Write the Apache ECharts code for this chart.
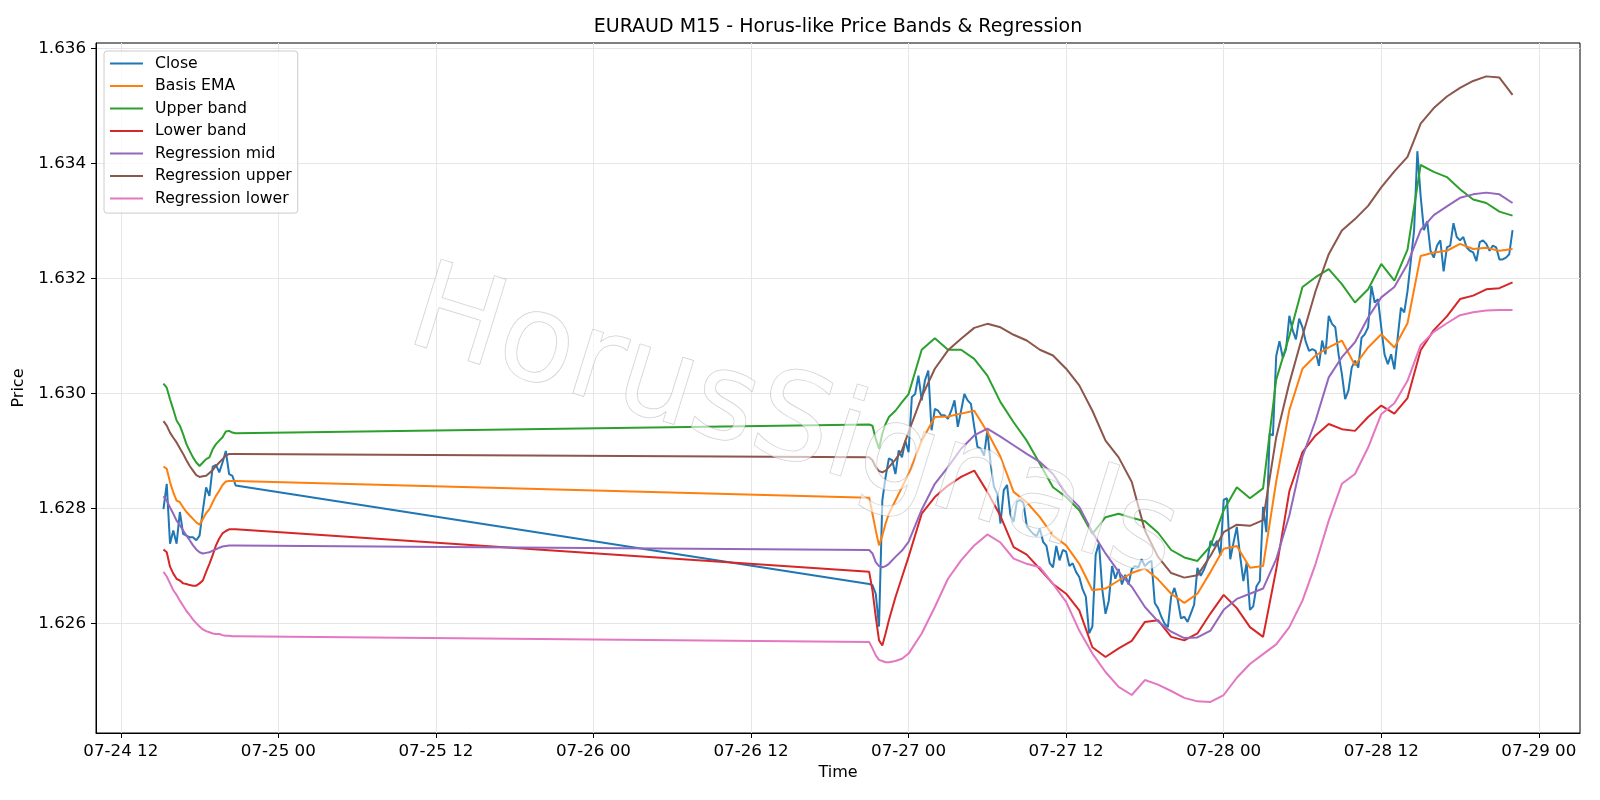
<!DOCTYPE html>
<html><head><meta charset="utf-8">
<script src="https://cdn.jsdelivr.net/npm/echarts@6/dist/echarts.min.js"></script>
<style>html,body{margin:0;padding:0;background:#fff}#chart{width:1600px;height:800px}</style>
</head><body><div id="chart"></div>
<script>
// ---- data ----
const seg1Start = '2025-07-24T15:15:00Z';
const seg2Start = '2025-07-26T21:00:00Z';
const barMinutes = 15;

const closeSeg1 = [1.62799,1.62843,1.62739,1.62762,1.62739,1.62794,1.62756,1.62753,1.62750,1.62750,1.62745,1.62753,1.62797,1.62837,1.62822,1.62873,1.62876,1.62863,1.62880,1.62900,1.62860,1.62857,1.62840];
const emaSeg1 = [1.62873,1.62869,1.62846,1.62828,1.62814,1.62811,1.62802,1.62794,1.62788,1.62782,1.62776,1.62772,1.62782,1.62792,1.62799,1.62811,1.62822,1.62831,1.62841,1.62847,1.62848,1.62848,1.62848];
const upperSeg1 = [1.63017,1.63010,1.62990,1.62972,1.62953,1.62944,1.62929,1.62912,1.62900,1.62889,1.62880,1.62874,1.62880,1.62886,1.62889,1.62903,1.62912,1.62918,1.62924,1.62934,1.62935,1.62932,1.62931];
const lowerSeg1 = [1.62729,1.62724,1.62699,1.62687,1.62678,1.62675,1.62670,1.62669,1.62667,1.62666,1.62666,1.62670,1.62675,1.62690,1.62704,1.62719,1.62736,1.62748,1.62757,1.62761,1.62764,1.62764,1.62764];
const regMidSeg1 = [1.62821,1.62814,1.62802,1.62791,1.62779,1.62771,1.62762,1.62753,1.62745,1.62736,1.62729,1.62724,1.62722,1.62723,1.62724,1.62727,1.62729,1.62732,1.62734,1.62735,1.62736,1.62736,1.62736];
const regUpSeg1 = [1.62952,1.62944,1.62932,1.62923,1.62915,1.62905,1.62895,1.62884,1.62874,1.62866,1.62858,1.62855,1.62856,1.62857,1.62862,1.62867,1.62874,1.62880,1.62886,1.62892,1.62895,1.62895,1.62895];
const regLowSeg1 = [1.62690,1.62682,1.62670,1.62658,1.62650,1.62640,1.62631,1.62622,1.62615,1.62607,1.62601,1.62595,1.62590,1.62587,1.62585,1.62583,1.62582,1.62582,1.62580,1.62579,1.62579,1.62578,1.62578];

const closeSeg2 = [
1.62669,1.62667,1.62652,1.62595,1.62814,1.62855,1.62887,1.62884,1.62860,1.62901,
1.62889,1.62918,1.62898,1.62994,1.62999,1.63031,1.62988,1.63023,1.63040,1.62936,
1.62973,1.62970,1.62962,1.62962,1.62956,1.62970,1.62988,1.62942,1.62970,1.62999,
1.62988,1.62982,1.62942,1.62907,1.62904,1.62892,1.62936,1.62878,1.62838,1.62826,
1.62774,1.62832,1.62841,1.62790,1.62777,1.62812,1.62815,1.62810,1.62770,1.62762,
1.62756,1.62752,1.62765,1.62742,1.62735,1.62705,1.62698,1.62735,1.62710,1.62728,
1.62725,1.62700,1.62705,1.62690,1.62681,1.62660,1.62647,1.62583,1.62595,1.62720,
1.62740,1.62660,1.62617,1.62640,1.62700,1.62678,1.62695,1.62668,1.62685,1.62668,
1.62695,1.62700,1.62698,1.62712,1.62700,1.62706,1.62709,1.62636,1.62627,1.62612,
1.62600,1.62594,1.62647,1.62662,1.62641,1.62609,1.62612,1.62603,1.62618,1.62633,
1.62697,1.62683,1.62694,1.62709,1.62744,1.62735,1.62744,1.62718,1.62815,1.62818,
1.62712,1.62741,1.62768,1.62718,1.62674,1.62706,1.62624,1.62630,1.62665,1.62674,
1.62803,1.62759,1.62930,1.62927,1.63065,1.63091,1.63062,1.63077,1.63135,1.63110,
1.63094,1.63130,1.63115,1.63090,1.63074,1.63077,1.63074,1.63048,1.63092,1.63068,
1.63135,1.63121,1.63115,1.63068,1.63034,1.62990,1.63005,1.63045,1.63057,1.63045,
1.63097,1.63103,1.63115,1.63187,1.63158,1.63164,1.63115,1.63068,1.63051,1.63068,
1.63042,1.63097,1.63149,1.63141,1.63178,1.63230,1.63283,1.63421,1.63343,1.63284,
1.63299,1.63248,1.63236,1.63257,1.63266,1.63212,1.63254,1.63257,1.63296,1.63272,
1.63266,1.63272,1.63254,1.63248,1.63245,1.63230,1.63263,1.63266,1.63260,1.63248,
1.63257,1.63254,1.63233,1.63233,1.63236,1.63242,1.63284];

// bar offsets (from seg2Start) at which the smooth indicator lines were read
const smoothIdxSeg2 = [0,1,2,3,4,5,6,8,10,12,16,20,24,28,32,36,40,44,48,52,56,60,64,68,72,76,80,84,88,92,96,100,104,108,112,116,120,124,128,132,136,140,144,148,152,156,160,164,168,172,176,180,184,188,192,196];

const emaSeg2 = [1.62819,1.62791,1.62762,1.62736,1.62753,1.62774,1.62791,1.62814,1.62837,1.62860,
1.62918,1.62959,1.62960,1.62965,1.62970,1.62933,1.62890,1.62829,1.62811,1.62785,1.62753,1.62736,1.62704,1.62658,1.62661,1.62675,1.62688,1.62696,1.62677,1.62652,1.62636,1.62652,1.62690,1.62730,1.62735,1.62697,1.62700,1.62847,1.62971,1.63043,1.63066,1.63080,1.63092,1.63049,1.63080,1.63103,1.63080,1.63122,1.63239,1.63245,1.63248,1.63260,1.63251,1.63253,1.63248,1.63251];
const upperSeg2 = [1.62946,1.62944,1.62921,1.62904,1.62930,1.62947,1.62959,1.62970,1.62985,1.62999,
1.63076,1.63096,1.63076,1.63076,1.63060,1.63031,1.62985,1.62950,1.62918,1.62878,1.62837,1.62820,1.62797,1.62756,1.62785,1.62791,1.62784,1.62778,1.62758,1.62728,1.62715,1.62709,1.62735,1.62797,1.62837,1.62818,1.62835,1.63024,1.63100,1.63185,1.63202,1.63216,1.63190,1.63158,1.63181,1.63225,1.63196,1.63250,1.63397,1.63385,1.63376,1.63355,1.63337,1.63331,1.63316,1.63309];
const lowerSeg2 = [1.62690,1.62658,1.62612,1.62571,1.62562,1.62583,1.62606,1.62646,1.62681,1.62716,
1.62791,1.62820,1.62840,1.62855,1.62866,1.62829,1.62787,1.62733,1.62720,1.62695,1.62669,1.62652,1.62623,1.62559,1.62542,1.62557,1.62570,1.62603,1.62606,1.62577,1.62571,1.62583,1.62618,1.62650,1.62627,1.62594,1.62577,1.62694,1.62830,1.62898,1.62927,1.62947,1.62938,1.62935,1.62959,1.62979,1.62965,1.62992,1.63075,1.63110,1.63134,1.63164,1.63170,1.63181,1.63183,1.63193];
const regMidSeg2 = [1.62728,1.62722,1.62707,1.62700,1.62698,1.62700,1.62704,1.62716,1.62727,1.62742,
1.62798,1.62843,1.62872,1.62904,1.62927,1.62939,1.62925,1.62910,1.62895,1.62881,1.62860,1.62826,1.62803,1.62759,1.62722,1.62690,1.62664,1.62629,1.62604,1.62586,1.62575,1.62576,1.62588,1.62624,1.62643,1.62652,1.62661,1.62712,1.62788,1.62890,1.62953,1.63028,1.63063,1.63089,1.63132,1.63167,1.63185,1.63225,1.63284,1.63310,1.63325,1.63340,1.63346,1.63349,1.63346,1.63331];
const regUpSeg2 = [1.62889,1.62884,1.62872,1.62865,1.62863,1.62866,1.62872,1.62885,1.62901,1.62933,
1.62994,1.63043,1.63075,1.63095,1.63114,1.63121,1.63115,1.63102,1.63092,1.63076,1.63066,1.63043,1.63014,1.62970,1.62918,1.62889,1.62846,1.62762,1.62716,1.62688,1.62680,1.62684,1.62718,1.62759,1.62772,1.62770,1.62780,1.62924,1.63018,1.63100,1.63178,1.63242,1.63283,1.63303,1.63326,1.63358,1.63386,1.63411,1.63469,1.63496,1.63516,1.63531,1.63543,1.63551,1.63549,1.63519];
const regLowSeg2 = [1.62568,1.62557,1.62545,1.62537,1.62535,1.62533,1.62533,1.62535,1.62539,1.62548,
1.62583,1.62629,1.62678,1.62710,1.62736,1.62755,1.62741,1.62713,1.62704,1.62698,1.62669,1.62638,1.62588,1.62548,1.62516,1.62490,1.62476,1.62502,1.62494,1.62483,1.62471,1.62465,1.62464,1.62476,1.62506,1.62530,1.62547,1.62564,1.62594,1.62640,1.62704,1.62779,1.62843,1.62860,1.62906,1.62964,1.62983,1.63022,1.63084,1.63107,1.63122,1.63136,1.63141,1.63144,1.63145,1.63145];

const seriesNames = ['Close','Basis EMA','Upper band','Lower band','Regression mid','Regression upper','Regression lower'];
const seriesColors = ['#1f77b4','#ff7f0e','#2ca02c','#d62728','#9467bd','#8c564b','#e377c2'];
const xTickTimes = ['2025-07-24T12:00:00Z','2025-07-25T00:00:00Z','2025-07-25T12:00:00Z','2025-07-26T00:00:00Z','2025-07-26T12:00:00Z','2025-07-27T00:00:00Z','2025-07-27T12:00:00Z','2025-07-28T00:00:00Z','2025-07-28T12:00:00Z','2025-07-29T00:00:00Z'];
const yTicks = [1.626,1.628,1.630,1.632,1.634,1.636];
const yLimits = [1.6241, 1.63609];
const chartTitle = 'EURAUD M15 - Horus-like Price Bands & Regression';
const watermark = 'HorusSignals';

// ---- build ----
const stepMs = barMinutes * 60000;
const t1 = Date.parse(seg1Start), t2 = Date.parse(seg2Start);
function build(seg1, idx2, seg2) {
  const out = seg1.map((v, i) => [t1 + i * stepMs, v]);
  seg2.forEach((v, j) => out.push([t2 + idx2[j] * stepMs, v]));
  return out;
}
const allIdx = closeSeg2.map((_, i) => i);
const seriesData = [
  build(closeSeg1, allIdx, closeSeg2),
  build(emaSeg1, smoothIdxSeg2, emaSeg2),
  build(upperSeg1, smoothIdxSeg2, upperSeg2),
  build(lowerSeg1, smoothIdxSeg2, lowerSeg2),
  build(regMidSeg1, smoothIdxSeg2, regMidSeg2),
  build(regUpSeg1, smoothIdxSeg2, regUpSeg2),
  build(regLowSeg1, smoothIdxSeg2, regLowSeg2)
];
const tFirst = t1, tLast = t2 + (closeSeg2.length - 1) * stepMs;
const span = tLast - tFirst;
const xMin = tFirst - 0.05 * span, xMax = tLast + 0.05 * span;
const xTickVals = xTickTimes.map(s => Date.parse(s));
const pad = n => String(n).padStart(2, '0');
const fmtX = v => { const d = new Date(v); return pad(d.getUTCMonth() + 1) + '-' + pad(d.getUTCDate()) + ' ' + pad(d.getUTCHours()); };

const FONT = 'DejaVu Sans';
const TICK_FS = 16.7, LABEL_FS = 16, LEGEND_FS = 15.7;
const chart = echarts.init(document.getElementById('chart'), null, {renderer: 'canvas'});
chart.setOption({
  animation: false,
  backgroundColor: '#ffffff',
  grid: {left: 96, right: 20, top: 43, bottom: 67, show: true, borderColor: '#000', borderWidth: 1, backgroundColor: 'transparent'},
  legend: {
    orient: 'vertical', left: 104, top: 51, padding: [4.5, 6, 6.6, 6], itemGap: 6.5,
    itemWidth: 33, itemHeight: 2, icon: 'rect',
    backgroundColor: 'rgba(255,255,255,0.8)', borderColor: '#cccccc', borderWidth: 1, borderRadius: 3,
    textStyle: {fontFamily: FONT, fontSize: LEGEND_FS, color: '#000', padding: [0, 0, 0, 7]},
    data: seriesNames
  },
  xAxis: {
    type: 'value', min: xMin, max: xMax,
    name: 'Time', nameLocation: 'middle', nameGap: 32,
    nameTextStyle: {fontFamily: FONT, fontSize: LABEL_FS, color: '#000'},
    axisLine: {show: true, lineStyle: {color: '#000', width: 1}},
    axisTick: {show: true, length: 5, lineStyle: {color: '#000', width: 1}, customValues: xTickVals},
    axisLabel: {customValues: xTickVals, formatter: fmtX, margin: 10, fontFamily: FONT, fontSize: TICK_FS, color: '#000'},
    splitLine: {show: true, lineStyle: {color: '#e6e6e6', width: 1}}
  },
  yAxis: {
    type: 'value', min: yLimits[0], max: yLimits[1], scale: true,
    name: 'Price', nameLocation: 'middle', nameGap: 62,
    nameTextStyle: {fontFamily: FONT, fontSize: LABEL_FS, color: '#000'},
    axisLine: {show: true, lineStyle: {color: '#000', width: 1}},
    axisTick: {show: true, length: 5, lineStyle: {color: '#000', width: 1}, customValues: yTicks},
    axisLabel: {customValues: yTicks, formatter: v => v.toFixed(3), margin: 10, fontFamily: FONT, fontSize: TICK_FS, color: '#000'},
    splitLine: {show: true, lineStyle: {color: '#e6e6e6', width: 1}}
  },
  graphic: [
    {type: 'text', x: 838, y: 27.5, z: 10, style: {text: chartTitle, align: 'center', verticalAlign: 'middle', font: 'normal 19px "DejaVu Sans"', fill: '#000'}},
    {type: 'text', x: 793, y: 428, rotation: -0.30, z: 100, silent: true,
     style: {text: watermark, align: 'center', verticalAlign: 'middle', font: 'normal 122px "DejaVu Sans"',
       fill: 'rgba(255,255,255,0.6)', stroke: 'rgba(150,150,150,0.5)', lineWidth: 1,
       shadowColor: 'rgba(0,0,0,0.6)', shadowBlur: 3, shadowOffsetX: -5, shadowOffsetY: 5}}
  ],
  series: seriesNames.map((n, i) => ({
    name: n, type: 'line', data: seriesData[i], showSymbol: false, symbol: 'none', silent: true,
    lineStyle: {width: 2, color: seriesColors[i]}, itemStyle: {color: seriesColors[i]}, z: 2
  }))
});
</script></body></html>
